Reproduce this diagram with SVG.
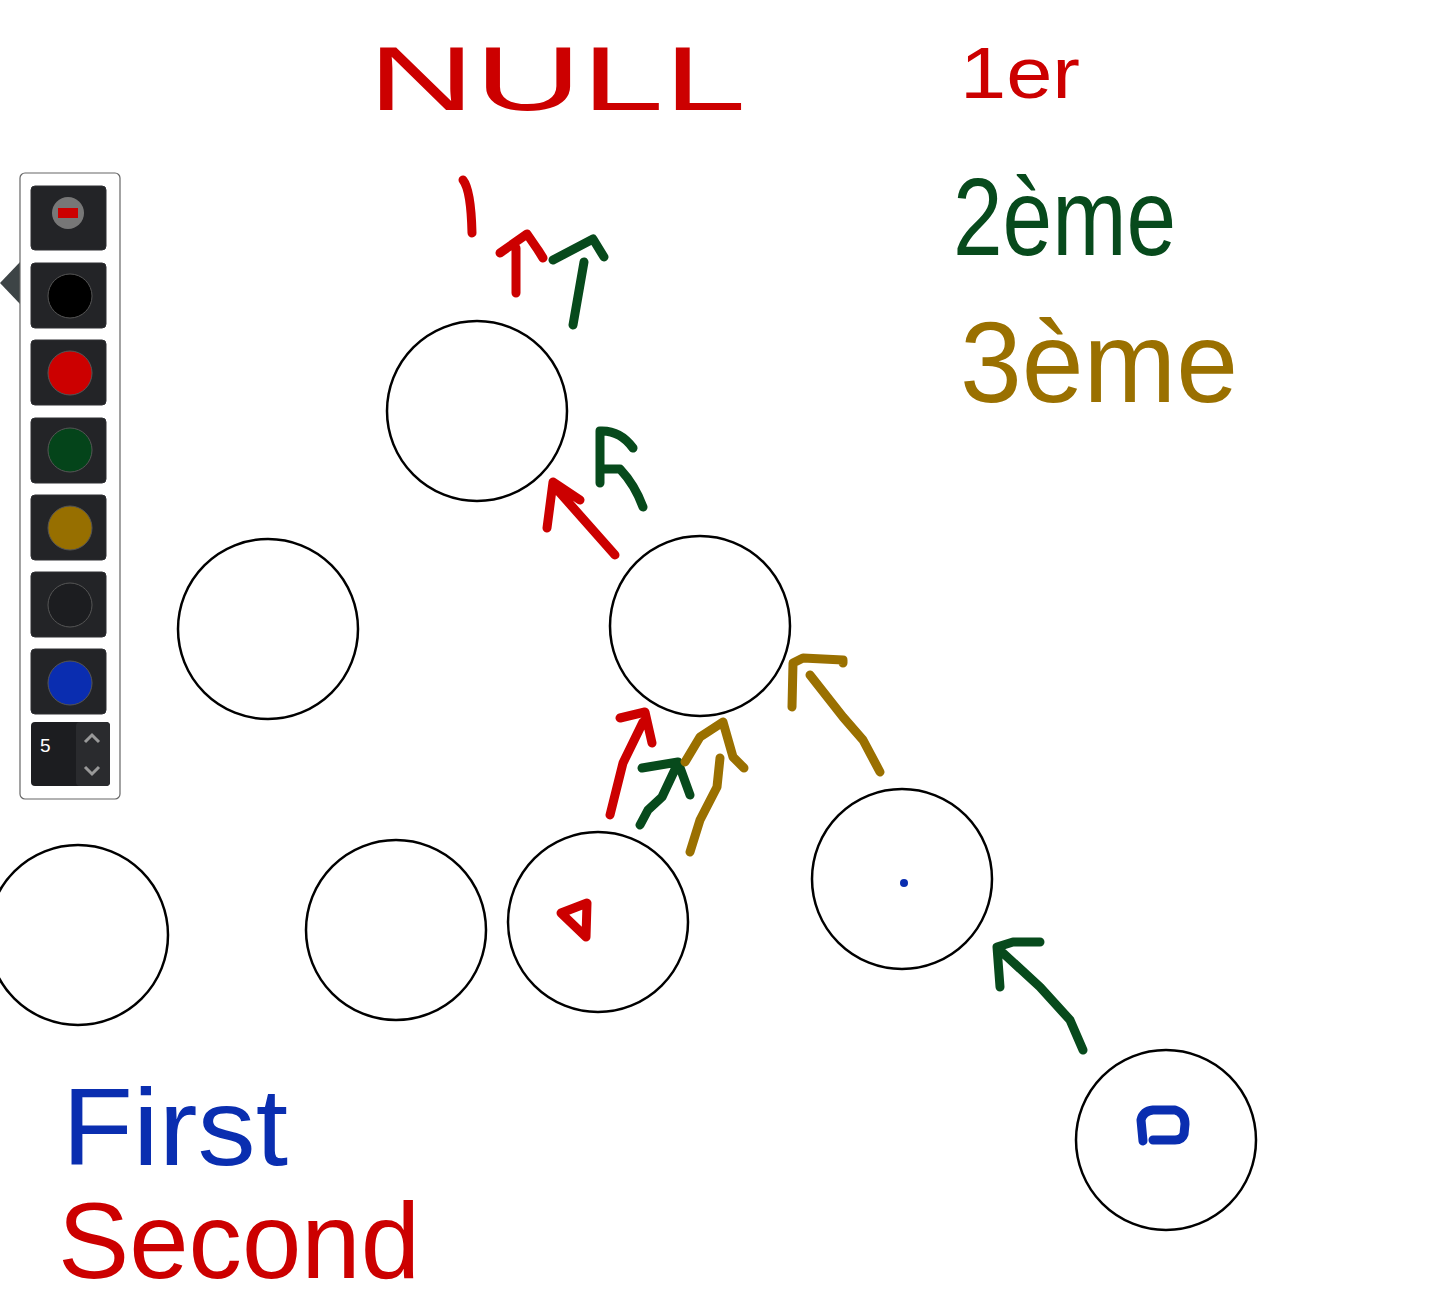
<svg xmlns="http://www.w3.org/2000/svg" width="1452" height="1304" viewBox="0 0 1452 1304">
<style>
.node{fill:#fff;stroke:#000;stroke-width:2.5}
.s{fill:none;stroke-width:9;stroke-linecap:round;stroke-linejoin:round}
.r{stroke:#cc0000}.g{stroke:#074a1c}.y{stroke:#9a7000}.b{stroke:#0a2eb0}
.t{font-family:"Liberation Sans",Arial,sans-serif}
.btn{fill:#232427;stroke:#2e2f33;stroke-width:1}
.sw{stroke:#555;stroke-width:1}
</style>
<rect width="1452" height="1304" fill="#fff"/>
<g id="toolbar">
<polygon points="0,283 20,262 20,304" fill="#3d4446"/>
<rect x="20" y="173" width="100" height="626" rx="5" fill="#fff" stroke="#666" stroke-width="1.2"/>
<rect class="btn" x="31" y="186" width="75" height="64" rx="4"/>
<circle cx="68" cy="213" r="16" fill="#777"/>
<rect x="58" y="208" width="20" height="10" fill="#cc0000"/>
<rect class="btn" x="31" y="263" width="75" height="65" rx="4"/>
<circle class="sw" cx="70" cy="296" r="22" fill="#000"/>
<rect class="btn" x="31" y="340" width="75" height="65" rx="4"/>
<circle class="sw" cx="70" cy="373" r="22" fill="#cc0000"/>
<rect class="btn" x="31" y="418" width="75" height="65" rx="4"/>
<circle class="sw" cx="70" cy="450" r="22" fill="#04441a"/>
<rect class="btn" x="31" y="495" width="75" height="65" rx="4"/>
<circle class="sw" cx="70" cy="528" r="22" fill="#976f00"/>
<rect class="btn" x="31" y="572" width="75" height="65" rx="4"/>
<circle class="sw" cx="70" cy="605" r="22" fill="#1c1d20"/>
<rect class="btn" x="31" y="649" width="75" height="65" rx="4"/>
<circle class="sw" cx="70" cy="683" r="22" fill="#0a2db0"/>
<rect x="31" y="722" width="79" height="64" rx="4" fill="#1c1d20"/>
<rect x="76" y="722" width="34" height="64" rx="4" fill="#2a2b2e"/>
<text class="t" x="40" y="752" font-size="19" fill="#fff">5</text>
<path d="M85,742 L92,735 L99,742 M85,767 L92,774 L99,767" fill="none" stroke="#999" stroke-width="3"/>
</g>
<g id="node1"><circle class="node" cx="477" cy="411" r="90"/></g>
<g id="node2"><circle class="node" cx="268" cy="629" r="90"/></g>
<g id="node3"><circle class="node" cx="700" cy="626" r="90"/></g>
<g id="node4"><circle class="node" cx="78" cy="935" r="90"/></g>
<g id="node5"><circle class="node" cx="396" cy="930" r="90"/></g>
<g id="node6"><circle class="node" cx="598" cy="922" r="90"/>
<path class="s r" d="M561,913 L587,903 L586,937 Z" stroke-width="11"/></g>
<g id="node7"><circle class="node" cx="902" cy="879" r="90"/>
<circle cx="904" cy="883" r="4" fill="#0a2eb0"/></g>
<g id="node8"><circle class="node" cx="1166" cy="1140" r="90"/>
<path class="s b" d="M1143,1141 L1141,1120 Q1143,1111 1153,1110 L1175,1110 Q1185,1113 1185,1124 L1184,1134 Q1182,1140 1175,1140 L1153,1140"/></g>
<g id="connectors">
<path class="s r" d="M463,180 Q471,190 472,233"/>
<path class="s r" d="M516,293 L516,248 M500,253 L527,234 L538,250 L543,258"/>
<path class="s g" d="M573,325 L584,262 M553,260 L593,239 L604,257"/>
<path class="s r" d="M615,555 L553,485 M547,528 L553,482 L580,500"/>
<path class="s g" d="M633,448 Q620,430 600,431 L600,483 M601,469 L620,469 Q635,485 643,507"/>
<path class="s r" d="M610,815 L623,763 L643,722 M620,718 L645,712 L652,743"/>
<path class="s g" d="M640,825 L648,810 L662,797 L678,763 M642,768 L678,762 L690,795"/>
<path class="s y" d="M690,852 L700,820 L717,787 L720,758 M685,762 L700,737 L723,722 L733,757 L744,768"/>
<path class="s y" d="M792,707 L793,663 L803,658 L843,660 L843,663 M810,675 L843,717 L863,740 L880,772"/>
<path class="s g" d="M1000,987 L997,947 L1013,942 L1040,942 M1003,953 L1040,987 L1070,1020 L1083,1050"/>
</g>
<g id="labels" class="t">
<text x="368" y="110" font-size="90" fill="#cc0000" textLength="378" lengthAdjust="spacingAndGlyphs">NULL</text>
<text x="960" y="98" font-size="72" fill="#cc0000" textLength="120" lengthAdjust="spacingAndGlyphs">1er</text>
<text x="953" y="255" font-size="110" fill="#074a1c" textLength="223" lengthAdjust="spacingAndGlyphs">2ème</text>
<text x="960" y="402" font-size="115" fill="#9a7000" textLength="278" lengthAdjust="spacingAndGlyphs">3ème</text>
<text x="62" y="1165" font-size="110" fill="#0a2eb0" textLength="226" lengthAdjust="spacingAndGlyphs">First</text>
<text x="58" y="1278" font-size="108" fill="#cc0000" textLength="362" lengthAdjust="spacingAndGlyphs">Second</text>
</g>
</svg>
